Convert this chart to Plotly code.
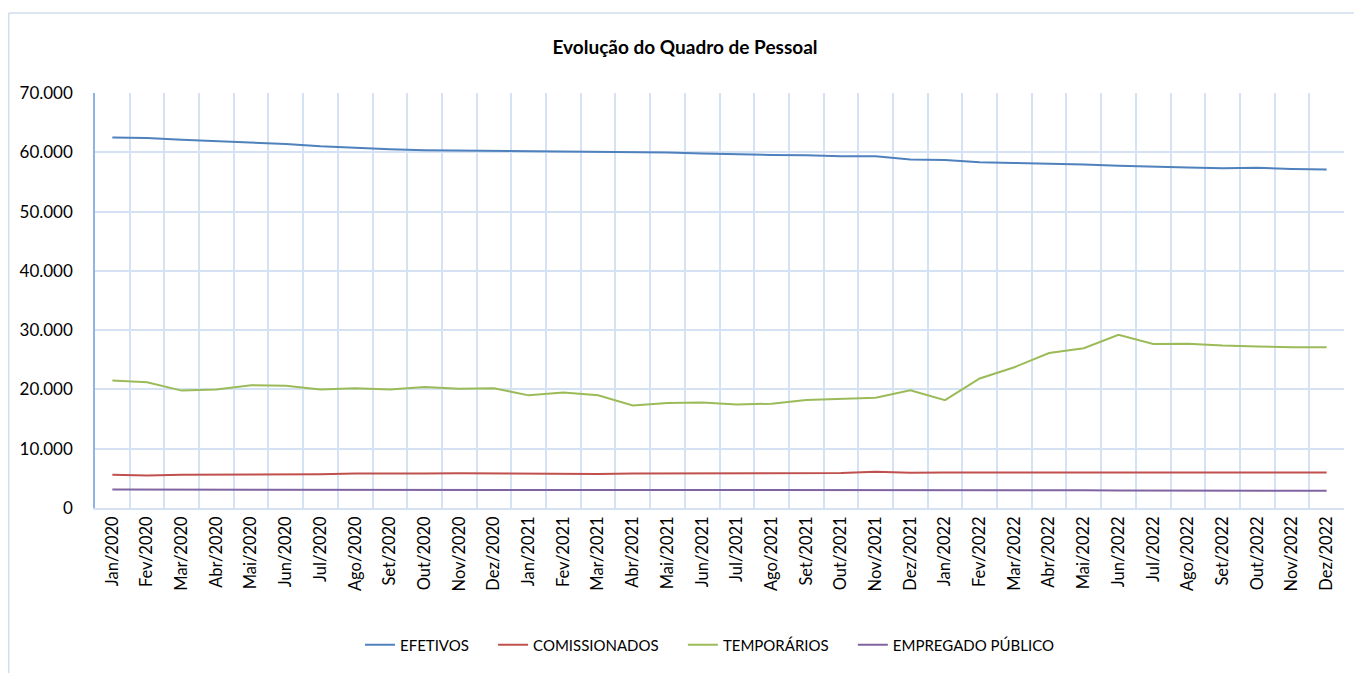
import plotly.graph_objects as go

months = ["Jan", "Fev", "Mar", "Abr", "Mai", "Jun", "Jul", "Ago", "Set", "Out", "Nov", "Dez"]
years = [2020, 2021, 2022]
categories = [f"{m}/{y}" for y in years for m in months]

efetivos = [62500, 62400, 62100, 61900, 61700, 61400, 61000, 60700, 60500, 60350, 60300, 60250,
            60250, 60150, 60100, 60050, 59950, 59800, 59650, 59550, 59500, 59350, 59350, 58800,
            58700, 58300, 58200, 58100, 57950, 57750, 57550, 57450, 57300, 57400, 57200, 57100]

comissionados = [5600, 5500, 5600, 5600, 5650, 5700, 5700, 5800, 5750, 5800, 5850, 5800,
                 5800, 5800, 5750, 5800, 5800, 5850, 5850, 5900, 5900, 5900, 6100, 5950,
                 6000, 6000, 6000, 6050, 6050, 6050, 6100, 6050, 6050, 6000, 6050, 6000]

temporarios = [21500, 21200, 19800, 20000, 20700, 20600, 20000, 20200, 20000, 20400, 20100, 20200,
               19000, 19500, 19000, 17300, 17700, 17800, 17450, 17600, 18200, 18400, 18600, 19850,
               18200, 21850, 23750, 26150, 26950, 29200, 27650, 27700, 27400, 27250, 27100, 27100]

empregado_publico = [3100, 3100, 3100, 3100, 3100, 3100, 3050, 3000, 3000, 3000, 3000, 3000,
                     3000, 3050, 3000, 3000, 3000, 3000, 3000, 3000, 3000, 2980, 2980, 2980,
                     2980, 2980, 2980, 2980, 2980, 2950, 2920, 2920, 2920, 2920, 2900, 2900]

series = [
    ("EFETIVOS", efetivos, "#4F81BD"),
    ("COMISSIONADOS", comissionados, "#C0504D"),
    ("TEMPORÁRIOS", temporarios, "#9BBB59"),
    ("EMPREGADO PÚBLICO", empregado_publico, "#8064A2"),
]

fig = go.Figure()
pad = "\u00a0" * 5
for name, vals, color in series:
    fig.add_trace(go.Scatter(x=categories, y=vals, name=name + pad, mode="lines",
                             line=dict(color=color, width=2)))

FONT = "Lato"
grid = "#D5E2F3"

W, H = 1354, 665
L, R, T, B = 87, 18, 85, 165
pw = W - L - R
ph = H - T - B
bottom = H - B

fig.update_layout(
    width=W, height=H,
    margin=dict(l=L, r=R, t=T, b=B),
    paper_bgcolor="white", plot_bgcolor="white",
    separators=",.",
    font=dict(family=FONT, color="#000000", size=14),
    title=dict(text="<b>Evolução do Quadro de Pessoal</b>", x=0.5, xanchor="center",
               y=1 - 39 / H, yanchor="middle", yref="container",
               font=dict(family=FONT, size=19, color="#000000")),
    showlegend=True,
    legend=dict(orientation="h", x=0.5, xanchor="center", y=(bottom - 637) / ph, yanchor="middle",
                font=dict(family=FONT, size=15, color="#000000"),
                traceorder="normal"),
    xaxis=dict(type="category", range=[-0.5, 35.5], tickson="boundaries",
               showgrid=True, gridcolor=grid, gridwidth=1.5,
               showline=True, linecolor=grid, linewidth=1.5,
               ticks="", tickangle=-90, tickfont=dict(family=FONT, size=16.5, color="#000000"),
               zeroline=False),
    yaxis=dict(range=[0, 70000], dtick=10000, tickformat=",.0f",
               showgrid=True, gridcolor=grid, gridwidth=1.5,
               showline=True, linecolor="#8EB4E3", linewidth=1.5,
               ticks="outside", ticklen=17, tickcolor="rgba(0,0,0,0)",
               tickfont=dict(family=FONT, size=17, color="#000000"),
               zeroline=False),
    shapes=[
        dict(type="line", xref="paper", yref="paper", x0=(0.75 - L) / pw, x1=(W - L) / pw,
             y0=(bottom - 5) / ph, y1=(bottom - 5) / ph, line=dict(color="#D0DEEF", width=1.5)),
        dict(type="line", xref="paper", yref="paper", x0=(0.75 - L) / pw, x1=(0.75 - L) / pw,
             y0=(bottom - 5) / ph, y1=(bottom - H - 5) / ph, line=dict(color="#D0DEEF", width=1.5)),
    ],
)

fig.write_html("out.html")
